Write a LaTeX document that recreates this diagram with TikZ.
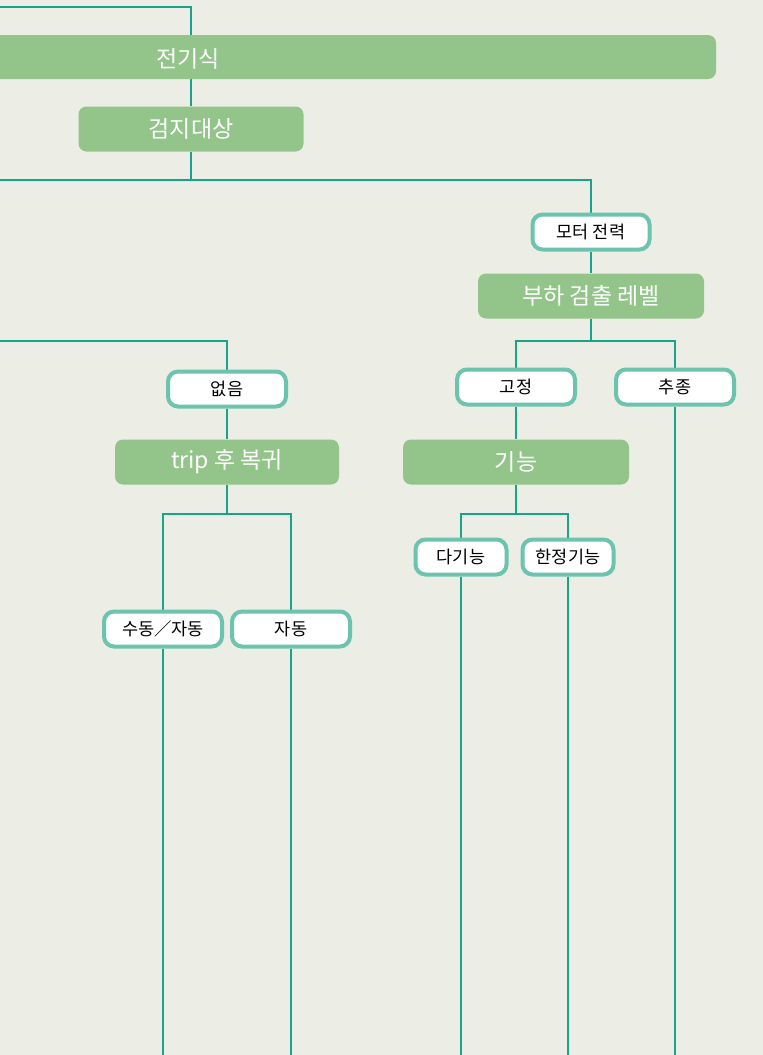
\documentclass[tikz,border=0pt]{standalone}
\usepackage{fontspec}
\setmainfont{Noto Sans CJK KR}
\pgfdeclarelayer{bglayer}
\pgfdeclarelayer{lines}
\pgfsetlayers{bglayer,lines,main}
\begin{document}
\begin{tikzpicture}[x=1pt,y=-1pt,
  conn/.style={draw=lineteal,line width=1.5pt},
  greenbox/.style={fill=boxgreen,draw=none,rounded corners=8pt,text=white,font=\fontsize{23}{26}\selectfont,inner sep=0pt,minimum height=45pt},
  whitebox/.style={fill=white,draw=bordteal,line width=4pt,rounded corners=10pt,text=black,font=\fontsize{17.5}{20}\selectfont,inner sep=0pt,minimum height=35pt,minimum width=118pt},
  smallbox/.style={whitebox,minimum width=91pt}]
\definecolor{bg}{HTML}{ECEEE5}
\definecolor{boxgreen}{HTML}{93C58B}
\definecolor{bordteal}{HTML}{6CC3AE}
\definecolor{lineteal}{HTML}{1AA38B}
\useasboundingbox (0,0) rectangle (763,1055);
\begin{pgfonlayer}{bglayer}
\fill[bg] (0,0) rectangle (763,1055);
\end{pgfonlayer}

% top bar
\fill[boxgreen,rounded corners=8pt] (-20,35) rectangle (716,79);
\node[text=white,font=\fontsize{23}{26}\selectfont,inner sep=0pt] (jgs) at (188,59) {전기식};

% boxes
\node[greenbox,minimum width=225pt] (gum) at (191,129) {검지대상};
\node[whitebox,minimum width=117pt] (motor) at (591,232) {모터 전력};
\node[greenbox,minimum width=226pt] (bu) at (591,296) {부하 검출 레벨};
\node[whitebox] (gj) at (516,387) {고정};
\node[whitebox] (cj) at (675,387) {추종};
\node[greenbox,minimum width=226pt] (gn) at (516,462) {기능};
\node[smallbox] (da) at (461,557) {다기능};
\node[smallbox] (han) at (568,557) {한정기능};
\node[whitebox] (ob) at (227,389) {없음};
\node[greenbox,minimum width=224pt] (trip) at (227,462) {trip 후 복귀};
\node[whitebox] (su) at (163,629) {수동／자동};
\node[whitebox] (ja) at (291,629) {자동};

% free ends and junctions
\coordinate (t0) at (0,7);
\coordinate (b0) at (0,180);
\coordinate (j1) at (191,180);
\coordinate (l0) at (0,341);
\coordinate (h2) at (591,341);
\coordinate (h3) at (516,514);
\coordinate (h4) at (227,514);
\coordinate (e1) at (163,1055);
\coordinate (e2) at (291,1055);
\coordinate (e3) at (461,1055);
\coordinate (e4) at (568,1055);
\coordinate (e5) at (675,1055);

% connectors (below the boxes)
\begin{pgfonlayer}{lines}
\draw[conn] (t0) -| (gum.north);
\draw[conn] (gum) -- (j1);
\draw[conn] (b0) -- (j1) -| (motor.north);
\draw[conn] (motor) -- (bu);
\draw[conn] (bu) -- (h2);
\draw[conn] (gj.north) |- (h2) -| (cj.north);
\draw[conn] (gj) -- (gn);
\draw[conn] (gn) -- (h3);
\draw[conn] (da.north) |- (h3) -| (han.north);
\draw[conn] (l0) -| (ob.north);
\draw[conn] (ob) -- (trip);
\draw[conn] (trip) -- (h4);
\draw[conn] (su.north) |- (h4) -| (ja.north);
\draw[conn] (su) -- (e1);
\draw[conn] (ja) -- (e2);
\draw[conn] (da) -- (e3);
\draw[conn] (han) -- (e4);
\draw[conn] (cj) -- (e5);
\end{pgfonlayer}
\end{tikzpicture}
\end{document}
